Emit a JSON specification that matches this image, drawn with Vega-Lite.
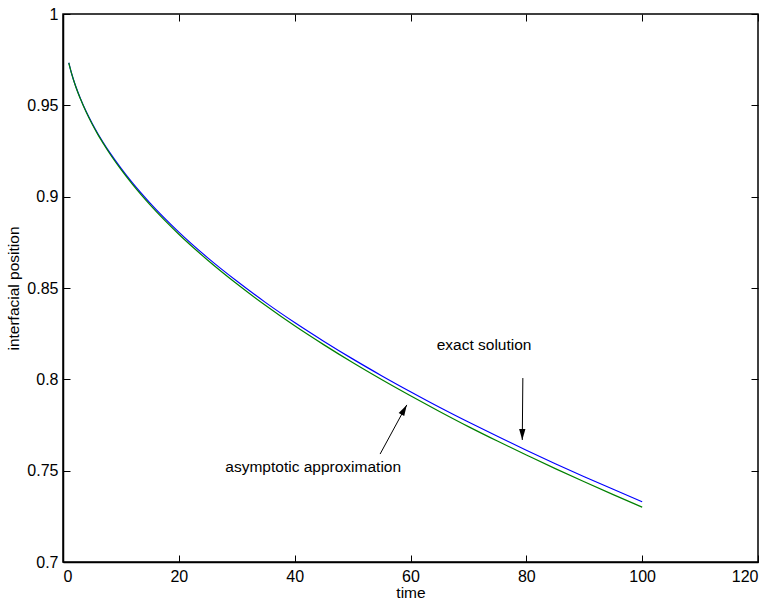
{
  "$schema": "https://vega.github.io/schema/vega-lite/v6.json",
  "autosize": {"type": "none"},
  "padding": {"left": 63, "top": 14, "right": 14, "bottom": 39},
  "width": 695,
  "height": 548,
  "background": "white",
  "config": {
    "view": {"stroke": "black", "strokeWidth": 1.5},
    "font": "Liberation Sans",
    "axis": {"grid": false, "domainColor": "black", "tickColor": "black", "labelColor": "black", "titleColor": "black", "labelFont": "Liberation Sans", "titleFont": "Liberation Sans", "labelFontSize": 16, "titleFontSize": 15.5, "titleFontWeight": "normal", "tickSize": -7, "domainWidth": 1.5}
  },
  "datasets": {
    "curves": [
      {"t": 1, "v": 0.9733, "s": "exact"}, {"t": 1.5, "v": 0.9673, "s": "exact"}, {"t": 2, "v": 0.9622, "s": "exact"}, {"t": 2.5, "v": 0.9578, "s": "exact"}, {"t": 3, "v": 0.9538, "s": "exact"}, {"t": 4, "v": 0.9466, "s": "exact"}, {"t": 5, "v": 0.9403, "s": "exact"}, {"t": 6, "v": 0.9346, "s": "exact"}, {"t": 7, "v": 0.9294, "s": "exact"}, {"t": 8, "v": 0.9245, "s": "exact"}, {"t": 10, "v": 0.9156, "s": "exact"}, {"t": 12, "v": 0.9075, "s": "exact"}, {"t": 15, "v": 0.8966, "s": "exact"}, {"t": 20, "v": 0.8806, "s": "exact"}, {"t": 25, "v": 0.8665, "s": "exact"}, {"t": 30, "v": 0.8538, "s": "exact"}, {"t": 35, "v": 0.842, "s": "exact"}, {"t": 40, "v": 0.8311, "s": "exact"}, {"t": 45, "v": 0.8209, "s": "exact"}, {"t": 50, "v": 0.8112, "s": "exact"}, {"t": 55, "v": 0.802, "s": "exact"}, {"t": 60, "v": 0.7932, "s": "exact"}, {"t": 65, "v": 0.7847, "s": "exact"}, {"t": 70, "v": 0.7766, "s": "exact"}, {"t": 75, "v": 0.7688, "s": "exact"}, {"t": 80, "v": 0.7612, "s": "exact"}, {"t": 85, "v": 0.7538, "s": "exact"}, {"t": 90, "v": 0.7467, "s": "exact"}, {"t": 95, "v": 0.7398, "s": "exact"}, {"t": 100, "v": 0.733, "s": "exact"},
      {"t": 1, "v": 0.9733, "s": "asym"}, {"t": 1.5, "v": 0.9672, "s": "asym"}, {"t": 2, "v": 0.9621, "s": "asym"}, {"t": 2.5, "v": 0.9576, "s": "asym"}, {"t": 3, "v": 0.9536, "s": "asym"}, {"t": 4, "v": 0.9463, "s": "asym"}, {"t": 5, "v": 0.9399, "s": "asym"}, {"t": 6, "v": 0.9341, "s": "asym"}, {"t": 7, "v": 0.9289, "s": "asym"}, {"t": 8, "v": 0.9239, "s": "asym"}, {"t": 10, "v": 0.9149, "s": "asym"}, {"t": 12, "v": 0.9067, "s": "asym"}, {"t": 15, "v": 0.8956, "s": "asym"}, {"t": 20, "v": 0.8794, "s": "asym"}, {"t": 25, "v": 0.8652, "s": "asym"}, {"t": 30, "v": 0.8523, "s": "asym"}, {"t": 35, "v": 0.8404, "s": "asym"}, {"t": 40, "v": 0.8293, "s": "asym"}, {"t": 45, "v": 0.819, "s": "asym"}, {"t": 50, "v": 0.8092, "s": "asym"}, {"t": 55, "v": 0.7999, "s": "asym"}, {"t": 60, "v": 0.791, "s": "asym"}, {"t": 65, "v": 0.7824, "s": "asym"}, {"t": 70, "v": 0.7741, "s": "asym"}, {"t": 75, "v": 0.7662, "s": "asym"}, {"t": 80, "v": 0.7586, "s": "asym"}, {"t": 85, "v": 0.7511, "s": "asym"}, {"t": 90, "v": 0.7439, "s": "asym"}, {"t": 95, "v": 0.7369, "s": "asym"}, {"t": 100, "v": 0.73, "s": "asym"}
    ],
    "arrows": [
      {"x": 79.4, "y": 0.8007, "x2": 79.3, "y2": 0.7668, "ang": 180},
      {"x": 54.75, "y": 0.7591, "x2": 59.36, "y2": 0.786, "ang": 29}
    ],
    "labels": [
      {"x": 72.7, "y": 0.8188, "txt": "exact solution"},
      {"x": 43.2, "y": 0.752, "txt": "asymptotic approximation"}
    ]
  },
  "encoding": {
    "x": {"type": "quantitative", "scale": {"domain": [0, 120], "nice": false}},
    "y": {"type": "quantitative", "scale": {"domain": [0.7, 1], "nice": false, "zero": false}}
  },
  "layer": [
    {
      "data": {"name": "curves"},
      "mark": {"type": "line", "strokeWidth": 1.2, "interpolate": "monotone"},
      "encoding": {
        "x": {"field": "t", "type": "quantitative", "axis": {"values": [0, 20, 40, 60, 80, 100, 120], "title": "time", "titlePadding": 1, "labelPadding": 13}},
        "y": {"field": "v", "type": "quantitative", "axis": {"values": [0.7, 0.75, 0.8, 0.85, 0.9, 0.95, 1], "format": "~g", "title": "interfacial position", "titlePadding": 5, "labelPadding": 12}},
        "color": {"field": "s", "type": "nominal", "scale": {"domain": ["exact", "asym"], "range": ["#0000ff", "#008000"]}, "legend": null}
      }
    },
    {
      "data": {"name": "curves"},
      "mark": {"type": "point", "opacity": 0},
      "encoding": {
        "x": {"field": "t", "type": "quantitative", "axis": {"orient": "top", "values": [0, 20, 40, 60, 80, 100, 120], "labels": false, "title": null, "domain": false}},
        "y": {"field": "v", "type": "quantitative", "axis": {"orient": "right", "values": [0.7, 0.75, 0.8, 0.85, 0.9, 0.95, 1], "labels": false, "title": null, "domain": false}}
      }
    },
    {
      "data": {"name": "arrows"},
      "mark": {"type": "rule", "color": "black", "strokeWidth": 1},
      "encoding": {
        "x": {"field": "x", "type": "quantitative", "axis": null},
        "y": {"field": "y", "type": "quantitative", "axis": null},
        "x2": {"field": "x2"},
        "y2": {"field": "y2"}
      }
    },
    {
      "data": {"name": "arrows"},
      "mark": {"type": "point", "shape": "M0,0L-0.4,1.4L0.4,1.4Z", "filled": true, "color": "black", "opacity": 1, "size": 250, "strokeWidth": 0},
      "encoding": {
        "x": {"field": "x2", "type": "quantitative", "axis": null},
        "y": {"field": "y2", "type": "quantitative", "axis": null},
        "angle": {"field": "ang", "type": "quantitative", "scale": null}
      }
    },
    {
      "data": {"name": "labels"},
      "mark": {"type": "text", "fontSize": 15.5, "font": "Liberation Sans", "color": "black", "align": "center", "baseline": "middle"},
      "encoding": {
        "x": {"field": "x", "type": "quantitative", "axis": null},
        "y": {"field": "y", "type": "quantitative", "axis": null},
        "text": {"field": "txt"}
      }
    }
  ],
  "resolve": {"axis": {"x": "independent", "y": "independent"}}
}
